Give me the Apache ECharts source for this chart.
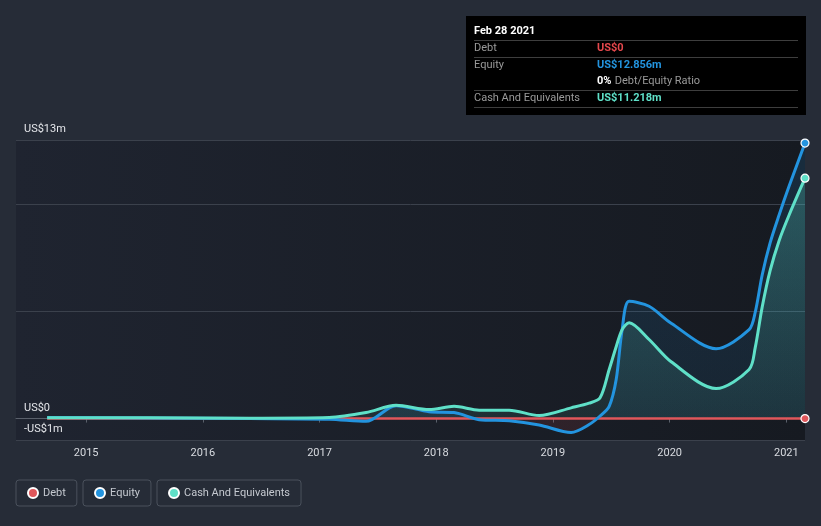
<!DOCTYPE html>
<html>
<head>
<meta charset="utf-8">
<script src="https://cdn.jsdelivr.net/npm/echarts@6/dist/echarts.min.js"></script>
<style>
html,body{margin:0;padding:0;background:#262c37;}
#c{width:821px;height:526px;}
</style>
</head>
<body>
<div id="c"></div>
<script>
// Decimal-year dates of the data points
const years = [2014.666, 2015.540, 2016.397, 2017.082, 2017.399, 2017.656, 2017.939, 2018.153, 2018.368, 2018.625, 2018.882, 2019.156, 2019.310, 2019.404, 2019.482, 2019.542, 2019.593, 2019.653, 2019.824, 2020.013, 2020.398, 2020.681, 2020.733, 2020.793, 2020.861, 2020.938, 2021.024, 2021.160];
// Values in US$ millions
const debt   = [0, 0, 0, 0, 0, 0, 0, 0, 0, 0, 0, 0, 0, 0, 0, 0, 0, 0, 0, 0, 0, 0, 0, 0, 0, 0, 0, 0];
const equity = [0.05, 0.03, 0.0, -0.03, -0.13, 0.6, 0.32, 0.28, -0.05, -0.1, -0.3, -0.65, -0.28, 0.12, 0.57, 1.82, 4.15, 5.47, 5.24, 4.45, 3.26, 4.15, 4.95, 6.7, 8.2, 9.5, 10.85, 12.856];
const cash   = [0.04, 0.04, 0.02, 0.05, 0.28, 0.62, 0.42, 0.57, 0.39, 0.39, 0.14, 0.5, 0.72, 0.97, 2.29, 3.35, 4.15, 4.47, 3.69, 2.65, 1.4, 2.29, 3.3, 5.2, 6.9, 8.3, 9.5, 11.218];
const xTickYears = [2015, 2016, 2017, 2018, 2019, 2020, 2021];
const yLabelValues = [-1, 0, 13];
const yGridValues = [-1, 0, 5, 10, 13];
const seriesNames = ['Debt', 'Equity', 'Cash And Equivalents'];
const seriesColors = ['#e0575b', '#2394df', '#5fe0c8'];

const chart = echarts.init(document.getElementById('c'), null, {renderer: 'canvas'});
const last = years.length - 1;
function pairs(vals) { return years.map((y, i) => [y, vals[i]]); }
function fmtY(v) {
  if (v === 0) return 'US$0';
  return (v < 0 ? '-' : '') + 'US$' + Math.abs(v) + 'm';
}
const endSymbol = (val, params) => params.dataIndex === last ? 'circle' : 'none';
const font = 'Roboto, "Noto Sans", sans-serif';
const legendCommon = {
  top: 480, orient: 'horizontal', icon: 'circle', itemWidth: 10, itemHeight: 10,
  borderColor: '#4a515c', borderWidth: 1, borderRadius: 3, padding: [7, 11],
  textStyle: {color: '#c5c9d0', fontSize: 11, fontFamily: font}, selectedMode: false
};

chart.setOption({
  animation: false,
  backgroundColor: '#262c37',
  textStyle: {fontFamily: font},
  grid: {
    left: 16, right: 16, top: 140, bottom: 86, show: true, borderWidth: 0,
    backgroundColor: new echarts.graphic.LinearGradient(0, 0, 1, 0, [
      {offset: 0, color: '#1f2430'}, {offset: 1, color: '#161a21'}
    ])
  },
  legend: [
    Object.assign({data: [seriesNames[0]], left: 16}, legendCommon),
    Object.assign({data: [seriesNames[1]], left: 83}, legendCommon),
    Object.assign({data: [seriesNames[2]], left: 157}, legendCommon)
  ],
  xAxis: {
    type: 'value', min: 2014.399, max: 2021.16,
    axisLine: {show: true, lineStyle: {color: '#5a606b', width: 1}},
    axisTick: {show: true, customValues: xTickYears, length: 4, lineStyle: {color: '#5a606b'}},
    axisLabel: {customValues: xTickYears, formatter: v => String(Math.round(v)), color: '#d8dbe0', fontSize: 11, margin: 8},
    splitLine: {show: false}
  },
  yAxis: {
    type: 'value', min: -1, max: 13,
    axisLine: {show: false},
    axisTick: {show: false, customValues: yGridValues},
    axisLabel: {customValues: yLabelValues, inside: true, margin: 8, verticalAlign: 'bottom', padding: [0, 0, 5, 0], color: '#e4e6ea', fontSize: 11, formatter: fmtY},
    splitLine: {show: true, lineStyle: {color: '#3b414c', width: 1}}
  },
  graphic: [
    {type: 'rect', shape: {x: 466, y: 16, width: 340, height: 99}, style: {fill: '#000000'}, z: 100},
    {type: 'text', x: 474, y: 31, style: {text: 'Feb 28 2021', fill: '#ffffff', font: 'bold 11px ' + font, textVerticalAlign: 'middle'}, z: 101},
    {type: 'line', shape: {x1: 474, y1: 40.5, x2: 798, y2: 40.5}, style: {stroke: '#3e3e3e', lineWidth: 1}, z: 101},
    {type: 'text', x: 474, y: 48, style: {text: 'Debt', fill: '#9a9a9a', font: '11px ' + font, textVerticalAlign: 'middle'}, z: 101},
    {type: 'text', x: 597, y: 48, style: {text: 'US$0', fill: '#e5484d', font: 'bold 11px ' + font, textVerticalAlign: 'middle'}, z: 101},
    {type: 'line', shape: {x1: 474, y1: 57.5, x2: 798, y2: 57.5}, style: {stroke: '#3e3e3e', lineWidth: 1}, z: 101},
    {type: 'text', x: 474, y: 65, style: {text: 'Equity', fill: '#9a9a9a', font: '11px ' + font, textVerticalAlign: 'middle'}, z: 101},
    {type: 'text', x: 597, y: 65, style: {text: 'US$12.856m', fill: '#2394df', font: 'bold 11px ' + font, textVerticalAlign: 'middle'}, z: 101},
    {type: 'text', x: 597, y: 81, style: {text: '{b|0%} {g|Debt/Equity Ratio}', textVerticalAlign: 'middle',
      rich: {b: {fill: '#ffffff', font: 'bold 11px ' + font}, g: {fill: '#9a9a9a', font: '11px ' + font}}}, z: 101},
    {type: 'line', shape: {x1: 474, y1: 90.5, x2: 798, y2: 90.5}, style: {stroke: '#3e3e3e', lineWidth: 1}, z: 101},
    {type: 'text', x: 474, y: 98, style: {text: 'Cash And Equivalents', fill: '#9a9a9a', font: '11px ' + font, textVerticalAlign: 'middle'}, z: 101},
    {type: 'text', x: 597, y: 98, style: {text: 'US$11.218m', fill: '#5fe0c8', font: 'bold 11px ' + font, textVerticalAlign: 'middle'}, z: 101},
    {type: 'line', shape: {x1: 474, y1: 107.5, x2: 798, y2: 107.5}, style: {stroke: '#3e3e3e', lineWidth: 1}, z: 101}
  ],
  series: [
    {
      name: seriesNames[0], type: 'line', data: pairs(debt), smooth: 0.3,
      showSymbol: true, showAllSymbol: true, symbol: endSymbol, symbolSize: 8, clip: false,
      itemStyle: {color: seriesColors[0], borderColor: '#ffffff', borderWidth: 1.2},
      lineStyle: {color: seriesColors[0], width: 2.5}
    },
    {
      name: seriesNames[1], type: 'line', data: pairs(equity), smooth: 0.3,
      showSymbol: true, showAllSymbol: true, symbol: endSymbol, symbolSize: 8, clip: false,
      itemStyle: {color: seriesColors[1], borderColor: '#ffffff', borderWidth: 1.2},
      lineStyle: {color: seriesColors[1], width: 3},
      areaStyle: {
        color: new echarts.graphic.LinearGradient(0, 140, 0, 440, [
          {offset: 0, color: 'rgba(35,148,223,0.22)'},
          {offset: 0.928, color: 'rgba(35,148,223,0.12)'},
          {offset: 0.931, color: 'rgba(220,70,75,0.16)'},
          {offset: 1, color: 'rgba(220,70,75,0.16)'}
        ], true)
      }
    },
    {
      name: seriesNames[2], type: 'line', data: pairs(cash), smooth: 0.3,
      showSymbol: true, showAllSymbol: true, symbol: endSymbol, symbolSize: 8, clip: false,
      itemStyle: {color: seriesColors[2], borderColor: '#ffffff', borderWidth: 1.2},
      lineStyle: {color: seriesColors[2], width: 3},
      areaStyle: {
        color: new echarts.graphic.LinearGradient(0, 178, 0, 419, [
          {offset: 0, color: 'rgba(95,224,200,0.36)'},
          {offset: 1, color: 'rgba(95,224,200,0.12)'}
        ], true)
      }
    }
  ]
});
</script>
</body>
</html>
